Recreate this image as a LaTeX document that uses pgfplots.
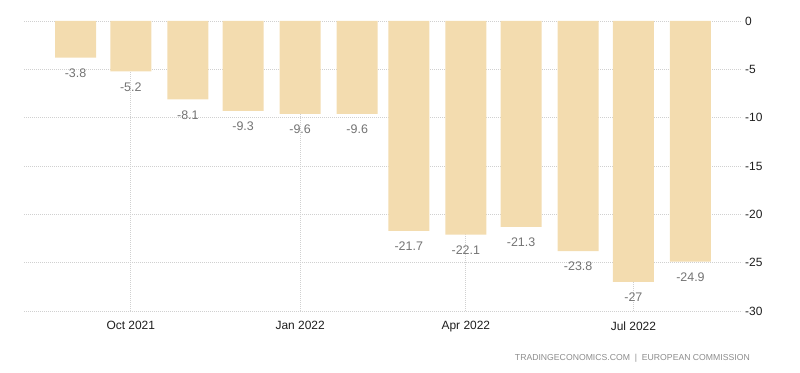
\documentclass[border=0pt]{standalone}
\usepackage{fontspec}
\setmainfont{Liberation Sans}
\usepackage{pgfplots}
\pgfplotsset{compat=1.18}
\definecolor{barc}{RGB}{243,220,175}
\definecolor{gridc}{RGB}{208,208,208}
\definecolor{lblc}{RGB}{115,115,115}
\definecolor{tickc}{RGB}{30,30,30}
\definecolor{footc}{RGB}{140,140,140}
\begin{document}
\begin{tikzpicture}
\useasboundingbox (0bp,0bp) rectangle (800bp,373bp);
\begin{axis}[
  at={(24bp,62bp)}, anchor=south west,
  width=718bp, height=290bp, scale only axis,
  xmin=-28, xmax=362, ymin=-30, ymax=0,
  ybar, bar width=41bp,
  axis line style={draw=none},
  major tick style={draw=none},
  xtick={30,122,212,303},
  xticklabels={Oct 2021,Jan 2022,Apr 2022,Jul 2022},
  ytick={-30,-25,-20,-15,-10,-5,0},
  yticklabel pos=right,
  /pgf/number format/assume math mode=true,
  xmajorgrids, ymajorgrids,
  major grid style={draw=gridc, line width=0.8bp, dash pattern=on 1bp off 1bp},
  xticklabel style={font=\fontsize{12}{14}\selectfont, text=tickc, inner sep=0pt, yshift=-6bp},
  yticklabel style={font=\fontsize{12}{14}\selectfont, text=tickc, anchor=west, inner sep=0pt, xshift=3bp},
  nodes near coords,
  point meta=explicit symbolic,
  every node near coord/.append style={font=\fontsize{12.5}{14}\selectfont, text=lblc, anchor=north, inner sep=0pt, yshift=-11bp},
]
\addplot[fill=barc, draw=none] table[x=x, y=y, meta=lab] {
x y lab
0 -3.8 -3.8
30 -5.2 -5.2
61 -8.1 -8.1
91 -9.3 -9.3
122 -9.6 -9.6
153 -9.6 -9.6
181 -21.7 -21.7
212 -22.1 -22.1
242 -21.3 -21.3
273 -23.8 -23.8
303 -27 -27
334 -24.9 -24.9
};
\end{axis}
\node[anchor=base east, inner sep=0pt, text=footc, font=\fontsize{8.7}{10}\selectfont] at (750bp,13bp) {TRADINGECONOMICS.COM\ \ |\ \ EUROPEAN\ COMMISSION};
\end{tikzpicture}
\end{document}
